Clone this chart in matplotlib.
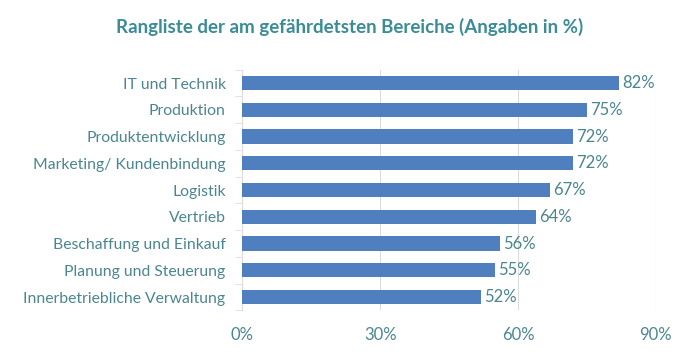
import matplotlib
matplotlib.use('Agg')
import matplotlib.pyplot as plt
import numpy as np

categories = ['IT und Technik', 'Produktion', 'Produktentwicklung', 'Marketing/ Kundenbindung',
              'Logistik', 'Vertrieb', 'Beschaffung und Einkauf', 'Planung und Steuerung',
              'Innerbetriebliche Verwaltung']
values = [82, 75, 72, 72, 67, 64, 56, 55, 52]
xticks = [0, 30, 60, 90]
xtick_labels = ['0%', '30%', '60%', '90%']

plt.rcParams['font.family'] = ['Lato', 'DejaVu Sans']
text_col = '#4a8690'
bar_col = '#4f7fbe'
grid_col = '#dcdcdc'

fig = plt.figure(figsize=(7, 3.61), dpi=100)
ax = fig.add_axes([0.346, 0.140, 0.591, 0.667])

y = np.arange(len(categories))
ax.barh(y, values, height=0.53, color=bar_col, zorder=3)
for yi, v in zip(y, values):
    ax.text(v + 0.7, yi, f'{v}%', va='center', ha='left', fontsize=12, color=text_col)

ax.set_ylim(len(categories) - 0.5, -0.5)
ax.set_xlim(0, 90)
ax.set_yticks(y)
ax.set_yticklabels(categories, fontsize=11.3, color=text_col)
ax.set_yticks(np.arange(len(categories) + 1) - 0.5, minor=True)
ax.tick_params(axis='y', which='major', length=0, pad=12)
ax.tick_params(axis='y', which='minor', length=5, color=grid_col)
ax.set_xticks(xticks)
ax.set_xticklabels(xtick_labels, fontsize=12, color=text_col)
ax.tick_params(axis='x', length=0, pad=12)
ax.xaxis.grid(True, color=grid_col, linewidth=0.8, zorder=0)

for s in ['top', 'right', 'bottom']:
    ax.spines[s].set_visible(False)
ax.spines['left'].set_color(grid_col)

fig.text(0.5, 0.925, 'Rangliste der am gefährdetsten Bereiche (Angaben in %)',
         ha='center', va='center', fontsize=13.5, fontweight='bold', color='#3a8c97')

fig.savefig('out.png', dpi=100)
